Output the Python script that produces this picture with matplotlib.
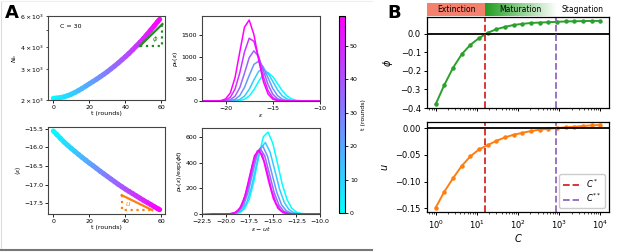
import numpy as np
import matplotlib
matplotlib.use("Agg")
import matplotlib.pyplot as plt
from matplotlib.collections import LineCollection
from matplotlib.colors import LinearSegmentedColormap, Normalize
from matplotlib.cm import ScalarMappable
from matplotlib.lines import Line2D

# ---- panel A, left column (C = 30) ----
t_rounds = [0, 2, 4, 6, 8, 10, 12, 14, 16, 18, 20, 22, 24, 26, 28, 30,
            32, 34, 36, 38, 40, 42, 44, 46, 48, 50, 52, 54, 56, 58, 59]
n_b = [2046, 2051, 2065, 2084, 2118, 2158, 2208, 2265, 2328, 2399, 2472,
       2547, 2624, 2710, 2799, 2897, 3006, 3119, 3243, 3381, 3524, 3681,
       3855, 4046, 4246, 4467, 4720, 4990, 5280, 5590, 5750]
mean_eps = [-15.56, -15.66, -15.76, -15.86, -15.945, -16.03, -16.11, -16.19,
            -16.27, -16.345, -16.42, -16.49, -16.565, -16.64, -16.71, -16.78,
            -16.85, -16.92, -16.99, -17.055, -17.12, -17.18, -17.24, -17.30,
            -17.36, -17.42, -17.475, -17.53, -17.59, -17.645, -17.67]

# slope triangles (t, value)
phi_tri_t = [48, 60.5]
phi_tri_n = [4050, 5400]
u_tri_t = [37.9, 54.8]
u_tri_e = [-17.28, -17.68]

# ---- panel A, right column: distributions at selected rounds ----
eps_grid = [-22.5, -22.0, -21.5, -21.0, -20.5, -20.0, -19.5, -19.0, -18.5,
            -18.0, -17.5, -17.0, -16.5, -16.0, -15.5, -15.0, -14.5, -14.0,
            -13.5, -13.0, -12.5, -12.0, -11.5, -11.0, -10.5, -10.0]
dist_rounds = [0, 12, 24, 36, 48, 59]
p_b = [
    [0, 0, 0, 0, 0, 0, 0, 2, 11, 40, 114, 255, 446, 604, 640, 552, 395, 233, 114, 46, 15, 4, 1, 0, 0, 0],
    [0, 0, 0, 0, 0, 0, 2, 9, 36, 111, 263, 479, 672, 727, 629, 443, 253, 118, 45, 14, 3, 0, 0, 0, 0, 0],
    [0, 0, 0, 0, 0, 1, 9, 37, 122, 307, 578, 828, 901, 768, 522, 283, 122, 42, 12, 3, 0, 0, 0, 0, 0, 0],
    [0, 0, 0, 0, 1, 6, 28, 108, 301, 629, 980, 1135, 1002, 688, 369, 154, 50, 13, 2, 0, 0, 0, 0, 0, 0, 0],
    [0, 0, 0, 0, 3, 19, 82, 270, 635, 1110, 1420, 1349, 981, 547, 234, 77, 19, 4, 0, 0, 0, 0, 0, 0, 0, 0],
    [0, 0, 0, 1, 8, 46, 183, 530, 1107, 1671, 1832, 1502, 932, 439, 157, 42, 9, 1, 0, 0, 0, 0, 0, 0, 0, 0],
]
phi_c30 = 0.022
u_c30 = -0.018

# ---- panel B ----
C = [1, 1.624, 2.637, 4.281, 6.952, 11.29, 18.33, 29.76, 48.33, 78.48,
     127.4, 206.9, 335.9, 545.6, 885.9, 1438, 2336, 3793, 6158, 10000]
phi = [-0.380, -0.276, -0.184, -0.111, -0.060, -0.024, 0.005, 0.024, 0.037,
       0.047, 0.053, 0.058, 0.060, 0.062, 0.064, 0.066, 0.067, 0.068, 0.069,
       0.069]
u = [-0.149, -0.119, -0.094, -0.071, -0.053, -0.040, -0.032, -0.024, -0.0175,
     -0.0125, -0.009, -0.0056, -0.003, -0.0013, 0.0, 0.0013, 0.0025, 0.0038,
     0.005, 0.0056]
C_star = 16
C_2star = 850
phases = ['Extinction', 'Maturation', 'Stagnation']

W, H = 617, 252
fig = plt.figure(figsize=(W / 100, H / 100), dpi=100)


def px_axes(x0, y0, x1, y1):
    return fig.add_axes([x0 / W, 1 - y1 / H, (x1 - x0) / W, (y1 - y0) / H])


cmap = plt.cm.cool
norm = Normalize(0, 59)
fs_a = 4.5


def colored_line(ax, x, y):
    pts = np.column_stack([x, y])
    segs = np.stack([pts[:-1], pts[1:]], axis=1)
    mid = (np.asarray(x[:-1]) + np.asarray(x[1:])) / 2
    lc = LineCollection(segs, colors=cmap(norm(mid)), linewidths=3.6,
                        capstyle='round')
    ax.add_collection(lc)


def style_a(ax):
    ax.tick_params(which='both', labelsize=fs_a, pad=1.5)
    ax.tick_params(length=2, width=0.6)
    ax.tick_params(which='minor', length=1.2, width=0.5)
    for s in ax.spines.values():
        s.set_linewidth(0.8)
        s.set_color('#444444')


# N_b vs t
ax1 = px_axes(48, 16, 165, 100)
colored_line(ax1, t_rounds, n_b)
ax1.set_yscale('log')
ax1.set_ylim(2000, 6000)
ax1.set_xlim(-2.95, 61.95)
ax1.plot(phi_tri_t, phi_tri_n, color='#228B22', lw=1.6)
ax1.plot([phi_tri_t[0], phi_tri_t[1], phi_tri_t[1]],
         [phi_tri_n[0], phi_tri_n[0], phi_tri_n[1]],
         color='#228B22', lw=1.6, ls=':')
ax1.text(56.5, 4450, r'$\phi$', color='#228B22', fontsize=5, ha='center', va='center')
ax1.text(0.10, 0.86, 'C = 30', transform=ax1.transAxes, fontsize=fs_a)
ax1.set_ylabel(r'$N_b$', fontsize=fs_a, labelpad=1)
ax1.set_xlabel('t (rounds)', fontsize=fs_a, labelpad=1)
ax1.set_xticks([0, 20, 40, 60])
style_a(ax1)

# <eps> vs t
ax2 = px_axes(48, 127, 165, 214)
colored_line(ax2, t_rounds, mean_eps)
ax2.plot(u_tri_t, u_tri_e, color='#ff7f0e', lw=1.6)
ax2.plot([u_tri_t[0], u_tri_t[0], u_tri_t[1]],
         [u_tri_e[0], u_tri_e[1], u_tri_e[1]],
         color='#ff7f0e', lw=1.6, ls=':')
ax2.text(41.5, -17.53, r'$u$', color='#ff7f0e', fontsize=5, ha='center', va='center')
ax2.autoscale_view()
ax2.set_xticks([0, 20, 40, 60])
ax2.set_yticks([-15.5, -16.0, -16.5, -17.0, -17.5])
ax2.set_ylabel(r'$\langle\epsilon\rangle$', fontsize=fs_a, labelpad=1)
ax2.set_xlabel('t (rounds)', fontsize=fs_a, labelpad=1)
style_a(ax2)

# p_b(eps)
ax3 = px_axes(202, 16, 320, 101)
ax4 = px_axes(202, 128, 320, 214)
eps_arr = np.array(eps_grid)
for tr, row in zip(dist_rounds, p_b):
    col = cmap(norm(tr))
    ax3.plot(eps_arr, row, color=col, lw=1.1)
    ax4.plot(eps_arr - u_c30 * tr, np.array(row) / np.exp(phi_c30 * tr),
             color=col, lw=1.1)
ax3.set_xlim(-22.5, -10)
ax3.set_ylim(0, None)
ax3.set_xticks([-20, -15, -10])
ax3.set_yticks([0, 500, 1000, 1500])
ax3.set_xlabel(r'$\epsilon$', fontsize=fs_a, labelpad=1)
ax3.set_ylabel(r'$p_b(\epsilon)$', fontsize=fs_a, labelpad=1)
style_a(ax3)
ax4.set_xlim(-22.5, -10)
ax4.set_ylim(0, None)
ax4.set_xticks([-22.5, -20, -17.5, -15, -12.5, -10])
ax4.set_yticks([0, 200, 400, 600])
ax4.set_xlabel(r'$\epsilon - ut$', fontsize=fs_a, labelpad=1)
ax4.set_ylabel(r'$p_b(\epsilon)/\exp(\phi t)$', fontsize=fs_a, labelpad=1)
style_a(ax4)

cax = px_axes(339, 16, 345, 213)
cb = fig.colorbar(ScalarMappable(norm=norm, cmap=cmap), cax=cax)
cb.set_label('t (rounds)', fontsize=fs_a, labelpad=2)
cb.ax.tick_params(labelsize=fs_a, length=2, width=0.6, pad=1.5)
cb.outline.set_linewidth(0.8)

# ---- panel B ----
bx1 = px_axes(427, 17, 609, 108)
bx2 = px_axes(427, 122, 609, 212)
bx1.plot(C, phi, color='#2ca02c', marker='o', ms=2.2, lw=1.4)
bx2.plot(C, u, color='#ff7f0e', marker='o', ms=2.2, lw=1.4)
for ax in (bx1, bx2):
    ax.set_xscale('log')
    ax.axhline(0, color='k', lw=1.3)
    l1 = ax.axvline(C_star, color='#d62728', ls='--', lw=1.3, label=r'$C^*$')
    l2 = ax.axvline(C_2star, color='#9467bd', ls='--', lw=1.3, label=r'$C^{**}$')
    ax.tick_params(labelsize=6, length=2.5, width=0.7, pad=2)
    ax.tick_params(which='minor', length=1.5, width=0.5)
    for s in ax.spines.values():
        s.set_linewidth(0.9)
bx1.set_xlim(10 ** -0.21, 10 ** 4.21)
bx2.set_xlim(10 ** -0.21, 10 ** 4.21)
bx1.set_ylim(-0.4, 0.09)
bx1.set_yticks([0.0, -0.1, -0.2, -0.3, -0.4])
bx1.set_xticklabels([])
bx1.set_ylabel(r'$\phi$', fontsize=7)
bx2.set_ylim(-0.157, 0.0113)
bx2.set_yticks([0.0, -0.05, -0.10, -0.15])
bx2.set_yticklabels(['0.00', '\u22120.05', '\u22120.10', '\u22120.15'])
bx2.set_ylabel(r'$u$', fontsize=7)
bx2.set_xlabel(r'$C$', fontsize=7, labelpad=1)
bx2.legend(loc='lower right', fontsize=6, handlelength=2, borderpad=0.4,
           labelspacing=0.3, framealpha=1)

# phase band
band = px_axes(427, 3, 609, 16)
lo, hi = np.log10(bx1.get_xlim())
band.set_xlim(lo, hi)
band.set_ylim(0, 1)
band.axis('off')
ls, l2s = np.log10(C_star), np.log10(C_2star)
band.axvspan(lo, ls, color='#f4806e', lw=0)
grad = LinearSegmentedColormap.from_list('mat', ['#1f9e1f', '#ffffff'])
band.imshow(np.linspace(0, 1, 256)[None, :], cmap=grad, aspect='auto',
            extent=[ls, l2s, 0, 1])
band.set_xlim(lo, hi)
band.text((lo + ls) / 2, 0.5, phases[0], ha='center', va='center', fontsize=5.5)
band.text((ls + l2s) / 2, 0.5, phases[1], ha='center', va='center', fontsize=5.5)
band.text((l2s + hi) / 2, 0.5, phases[2], ha='center', va='center', fontsize=5.5)

# panel letters and frame
fig.text(5 / W, 1 - 18 / H, 'A', fontsize=13, fontweight='bold')
fig.text(387 / W, 1 - 17.5 / H, 'B', fontsize=13, fontweight='bold')
fig.add_artist(Line2D([1 / W, 1 / W], [1 - 1 / H, 1 - 249 / H], color='#dddddd', lw=0.8))
fig.add_artist(Line2D([1 / W, 372 / W], [1 - 1 / H, 1 - 1 / H], color='#eeeeee', lw=0.8))
fig.add_artist(Line2D([0, 372 / W], [1 - 249.5 / H, 1 - 249.5 / H], color='#777777', lw=1.5))

fig.savefig('out.png', dpi=100)
